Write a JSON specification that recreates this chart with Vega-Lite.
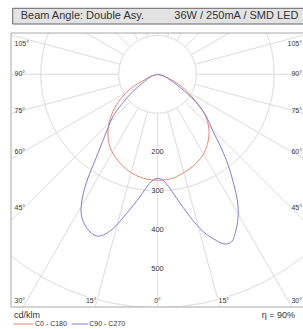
{
  "$schema": "https://vega.github.io/schema/vega-lite/v6.json",
  "width": 292,
  "height": 274,
  "padding": {"left": 11, "top": 33, "right": 0, "bottom": 22},
  "autosize": {"type": "none"},
  "background": "white",
  "config": {"view": {"stroke": null}},
  "datasets": {
    "circles": [{"r": 100}, {"r": 200}, {"r": 300}, {"r": 400}, {"r": 500}, {"r": 600}, {"r": 700}, {"r": 800}, {"r": 900}, {"r": 1000}],
    "spokes": [{"a": 0}, {"a": 15}, {"a": 30}, {"a": 45}, {"a": 60}, {"a": 75}, {"a": 90}, {"a": 105}, {"a": 120}, {"a": 135}, {"a": 150}, {"a": 165}, {"a": 180}, {"a": 195}, {"a": 210}, {"a": 225}, {"a": 240}, {"a": 255}, {"a": 270}, {"a": 285}, {"a": 300}, {"a": 315}, {"a": 330}, {"a": 345}],
    "curves": [
      {"s": "C0 - C180", "i": 1, "x": 0, "y": 0},
      {"s": "C0 - C180", "i": 2, "x": -18.0, "y": 4.9},
      {"s": "C0 - C180", "i": 3, "x": -32.9, "y": 13.9},
      {"s": "C0 - C180", "i": 4, "x": -67.4, "y": 35.2},
      {"s": "C0 - C180", "i": 5, "x": -93.1, "y": 60.9},
      {"s": "C0 - C180", "i": 6, "x": -114.4, "y": 95.1},
      {"s": "C0 - C180", "i": 7, "x": -125.4, "y": 129.6},
      {"s": "C0 - C180", "i": 8, "x": -127.2, "y": 155.3},
      {"s": "C0 - C180", "i": 9, "x": -122.9, "y": 185.1},
      {"s": "C0 - C180", "i": 10, "x": -110.0, "y": 210.8},
      {"s": "C0 - C180", "i": 11, "x": -88.7, "y": 236.5},
      {"s": "C0 - C180", "i": 12, "x": -58.6, "y": 258.1},
      {"s": "C0 - C180", "i": 13, "x": -28.8, "y": 269.2},
      {"s": "C0 - C180", "i": 14, "x": 0, "y": 272.2},
      {"s": "C0 - C180", "i": 15, "x": 35.5, "y": 268.4},
      {"s": "C0 - C180", "i": 16, "x": 65.6, "y": 253.7},
      {"s": "C0 - C180", "i": 17, "x": 95.6, "y": 232.4},
      {"s": "C0 - C180", "i": 18, "x": 117.0, "y": 206.7},
      {"s": "C0 - C180", "i": 19, "x": 128.0, "y": 181.0},
      {"s": "C0 - C180", "i": 20, "x": 132.4, "y": 155.3},
      {"s": "C0 - C180", "i": 21, "x": 129.8, "y": 125.2},
      {"s": "C0 - C180", "i": 22, "x": 117.0, "y": 95.1},
      {"s": "C0 - C180", "i": 23, "x": 91.3, "y": 60.9},
      {"s": "C0 - C180", "i": 24, "x": 61.2, "y": 30.8},
      {"s": "C0 - C180", "i": 25, "x": 27.0, "y": 9.5},
      {"s": "C0 - C180", "i": 26, "x": 0, "y": 0},
      {"s": "C90 - C270", "i": 1, "x": 0, "y": 0},
      {"s": "C90 - C270", "i": 2, "x": -18.0, "y": 6.4},
      {"s": "C90 - C270", "i": 3, "x": -32.9, "y": 18.0},
      {"s": "C90 - C270", "i": 4, "x": -63.0, "y": 43.7},
      {"s": "C90 - C270", "i": 5, "x": -93.1, "y": 78.1},
      {"s": "C90 - C270", "i": 6, "x": -114.4, "y": 108.0},
      {"s": "C90 - C270", "i": 7, "x": -127.2, "y": 138.0},
      {"s": "C90 - C270", "i": 8, "x": -144.5, "y": 181.0},
      {"s": "C90 - C270", "i": 9, "x": -161.4, "y": 223.7},
      {"s": "C90 - C270", "i": 10, "x": -178.7, "y": 266.6},
      {"s": "C90 - C270", "i": 11, "x": -187.1, "y": 292.3},
      {"s": "C90 - C270", "i": 12, "x": -194.1, "y": 323.1},
      {"s": "C90 - C270", "i": 13, "x": -196.7, "y": 348.8},
      {"s": "C90 - C270", "i": 14, "x": -194.1, "y": 369.4},
      {"s": "C90 - C270", "i": 15, "x": -186.4, "y": 387.4},
      {"s": "C90 - C270", "i": 16, "x": -173.5, "y": 405.4},
      {"s": "C90 - C270", "i": 17, "x": -156.3, "y": 415.7},
      {"s": "C90 - C270", "i": 18, "x": -139.3, "y": 413.1},
      {"s": "C90 - C270", "i": 19, "x": -113.6, "y": 395.9},
      {"s": "C90 - C270", "i": 20, "x": -79.2, "y": 357.3},
      {"s": "C90 - C270", "i": 21, "x": -45.0, "y": 314.7},
      {"s": "C90 - C270", "i": 22, "x": -23.7, "y": 284.6},
      {"s": "C90 - C270", "i": 23, "x": -10.8, "y": 271.7},
      {"s": "C90 - C270", "i": 24, "x": 0, "y": 267.4},
      {"s": "C90 - C270", "i": 25, "x": 11.6, "y": 270.4},
      {"s": "C90 - C270", "i": 26, "x": 21.9, "y": 280.2},
      {"s": "C90 - C270", "i": 27, "x": 49.4, "y": 318.8},
      {"s": "C90 - C270", "i": 28, "x": 83.5, "y": 366.1},
      {"s": "C90 - C270", "i": 29, "x": 117.7, "y": 404.6},
      {"s": "C90 - C270", "i": 30, "x": 152.2, "y": 427.8},
      {"s": "C90 - C270", "i": 31, "x": 173.5, "y": 436.2},
      {"s": "C90 - C270", "i": 32, "x": 190.7, "y": 430.3},
      {"s": "C90 - C270", "i": 33, "x": 201.8, "y": 400.3},
      {"s": "C90 - C270", "i": 34, "x": 207.7, "y": 357.3},
      {"s": "C90 - C270", "i": 35, "x": 205.1, "y": 323.1},
      {"s": "C90 - C270", "i": 36, "x": 194.1, "y": 275.1},
      {"s": "C90 - C270", "i": 37, "x": 181.2, "y": 232.4},
      {"s": "C90 - C270", "i": 38, "x": 164.0, "y": 189.5},
      {"s": "C90 - C270", "i": 39, "x": 142.7, "y": 146.5},
      {"s": "C90 - C270", "i": 40, "x": 125.4, "y": 108.0},
      {"s": "C90 - C270", "i": 41, "x": 104.1, "y": 78.1},
      {"s": "C90 - C270", "i": 42, "x": 69.9, "y": 43.7},
      {"s": "C90 - C270", "i": 43, "x": 31.4, "y": 13.9},
      {"s": "C90 - C270", "i": 44, "x": 14.1, "y": 3.1},
      {"s": "C90 - C270", "i": 45, "x": 0, "y": 0}
    ],
    "values": [{"t": "200", "v": 200}, {"t": "300", "v": 300}, {"t": "400", "v": 400}, {"t": "500", "v": 500}],
    "leftLabels": [{"t": "105°", "y": -79.2}, {"t": "90°", "y": 0}, {"t": "75°", "y": 94.3}, {"t": "60°", "y": 199.7}, {"t": "45°", "y": 344.5}, {"t": "30°", "y": 581.5}],
    "bottomLabels": [{"t": "15°", "x": -170.5}, {"t": "0°", "x": 0}, {"t": "15°", "x": 170.5}],
    "header": [{"t": "Beam Angle: Double Asy.", "x": -351.7}, {"t": "36W / 250mA / SMD LED", "x": 43.2}],
    "legend": [{"t": "C0 - C180", "x": -314.9}, {"t": "C90 - C270", "x": -175.3}]
  },
  "layer": [
    {
      "data": {"name": "circles"},
      "mark": {"type": "arc", "filled": false, "stroke": "#e0e0e0", "strokeWidth": 0.8, "theta": 0, "theta2": 6.2832, "clip": true},
      "encoding": {
        "x": {"datum": 0, "type": "quantitative", "scale": {"domain": [-376.6, 374.0], "nice": false, "zero": false}, "axis": null},
        "y": {"datum": 0, "type": "quantitative", "scale": {"domain": [-106.2, 598.2], "nice": false, "zero": false, "reverse": true}, "axis": null},
        "radius": {"field": "r", "type": "quantitative", "scale": {"type": "linear", "domain": [0, 1000], "range": [0, 389], "zero": true}, "legend": null}
      }
    },
    {
      "data": {"name": "spokes"},
      "mark": {"type": "arc", "filled": false, "stroke": "#e0e0e0", "strokeWidth": 0.8, "clip": true},
      "encoding": {
        "x": {"datum": 0, "type": "quantitative"},
        "y": {"datum": 0, "type": "quantitative"},
        "theta": {"field": "a", "type": "quantitative", "stack": null, "scale": {"domain": [0, 360], "range": [0, 6.283185]}},
        "theta2": {"field": "a"},
        "radius": {"datum": 1000, "type": "quantitative"},
        "radius2": {"datum": 100}
      }
    },
    {
      "data": {"name": "values"},
      "mark": {"type": "text", "font": "Liberation Sans", "fontSize": 7.5, "stroke": "white", "strokeWidth": 3, "fill": "white", "align": "center", "baseline": "middle"},
      "encoding": {
        "x": {"datum": 0, "type": "quantitative"},
        "y": {"field": "v", "type": "quantitative"},
        "text": {"field": "t"}
      }
    },
    {
      "data": {"name": "values"},
      "mark": {"type": "text", "font": "Liberation Sans", "fontSize": 7.5, "fill": "#333333", "align": "center", "baseline": "middle"},
      "encoding": {
        "x": {"datum": 0, "type": "quantitative"},
        "y": {"field": "v", "type": "quantitative"},
        "text": {"field": "t"}
      }
    },
    {
      "data": {"name": "curves"},
      "mark": {"type": "line", "strokeWidth": 1, "interpolate": "catmull-rom"},
      "encoding": {
        "x": {"field": "x", "type": "quantitative"},
        "y": {"field": "y", "type": "quantitative"},
        "color": {"field": "s", "type": "nominal", "scale": {"domain": ["C0 - C180", "C90 - C270"], "range": ["#ee8470", "#7f7fd8"]}, "legend": null},
        "order": {"field": "i", "type": "quantitative"}
      }
    },
    {
      "data": {"values": [{}]},
      "mark": {"type": "rule", "stroke": "#a8a8a8", "strokeWidth": 1},
      "encoding": {
        "x": {"datum": -376.6, "type": "quantitative"},
        "x2": {"datum": 500},
        "y": {"datum": -106.2, "type": "quantitative"}
      }
    },
    {
      "data": {"values": [{}]},
      "mark": {"type": "rule", "stroke": "#a8a8a8", "strokeWidth": 1},
      "encoding": {
        "x": {"datum": -376.6, "type": "quantitative"},
        "x2": {"datum": 500},
        "y": {"datum": 598.2, "type": "quantitative"}
      }
    },
    {
      "data": {"values": [{}]},
      "mark": {"type": "rule", "stroke": "#a8a8a8", "strokeWidth": 1},
      "encoding": {
        "x": {"datum": -376.6, "type": "quantitative"},
        "y": {"datum": -106.2, "type": "quantitative"},
        "y2": {"datum": 598.2}
      }
    },
    {
      "data": {"values": [{}]},
      "mark": {"type": "rect", "fill": "#e3e3e3", "stroke": "#666666", "strokeWidth": 1},
      "encoding": {
        "x": {"datum": -372.2, "type": "quantitative"},
        "x2": {"datum": 500},
        "y": {"datum": -169.7, "type": "quantitative"},
        "y2": {"datum": -129.3}
      }
    },
    {
      "data": {"name": "header"},
      "mark": {"type": "text", "font": "Liberation Sans", "fontSize": 11, "fill": "#333333", "align": "left", "baseline": "middle"},
      "encoding": {
        "x": {"field": "x", "type": "quantitative"},
        "y": {"datum": -149.3, "type": "quantitative"},
        "text": {"field": "t"}
      }
    },
    {
      "data": {"name": "leftLabels"},
      "mark": {"type": "text", "font": "Liberation Sans", "fontSize": 7, "fill": "#333333", "align": "left", "baseline": "middle"},
      "encoding": {
        "x": {"datum": -367.6, "type": "quantitative"},
        "y": {"field": "y", "type": "quantitative"},
        "text": {"field": "t"}
      }
    },
    {
      "data": {"name": "leftLabels"},
      "mark": {"type": "text", "font": "Liberation Sans", "fontSize": 7, "fill": "#333333", "align": "right", "baseline": "middle"},
      "encoding": {
        "x": {"datum": 371.5, "type": "quantitative"},
        "y": {"field": "y", "type": "quantitative"},
        "text": {"field": "t"}
      }
    },
    {
      "data": {"name": "bottomLabels"},
      "mark": {"type": "text", "font": "Liberation Sans", "fontSize": 7, "stroke": "white", "strokeWidth": 3, "fill": "white", "align": "center", "baseline": "middle"},
      "encoding": {
        "x": {"field": "x", "type": "quantitative"},
        "y": {"datum": 581.5, "type": "quantitative"},
        "text": {"field": "t"}
      }
    },
    {
      "data": {"name": "bottomLabels"},
      "mark": {"type": "text", "font": "Liberation Sans", "fontSize": 7, "fill": "#333333", "align": "center", "baseline": "middle"},
      "encoding": {
        "x": {"field": "x", "type": "quantitative"},
        "y": {"datum": 581.5, "type": "quantitative"},
        "text": {"field": "t"}
      }
    },
    {
      "data": {"values": [{"t": "cd/klm"}]},
      "mark": {"type": "text", "font": "Liberation Sans", "fontSize": 9, "fill": "#333333", "align": "left", "baseline": "middle"},
      "encoding": {
        "x": {"datum": -368.9, "type": "quantitative"},
        "y": {"datum": 618.8, "type": "quantitative"},
        "text": {"field": "t"}
      }
    },
    {
      "data": {"values": [{"t": "η = 90%"}]},
      "mark": {"type": "text", "font": "Liberation Sans", "fontSize": 9, "fill": "#333333", "align": "right", "baseline": "middle"},
      "encoding": {
        "x": {"datum": 353.5, "type": "quantitative"},
        "y": {"datum": 618.8, "type": "quantitative"},
        "text": {"field": "t"}
      }
    },
    {
      "data": {"name": "legend"},
      "mark": {"type": "text", "font": "Liberation Sans", "fontSize": 7, "fill": "#333333", "align": "left", "baseline": "middle"},
      "encoding": {
        "x": {"field": "x", "type": "quantitative"},
        "y": {"datum": 641.9, "type": "quantitative"},
        "text": {"field": "t"}
      }
    },
    {
      "data": {"values": [{}]},
      "mark": {"type": "rule", "stroke": "#ee8470", "strokeWidth": 1},
      "encoding": {
        "x": {"datum": -370.7, "type": "quantitative"},
        "x2": {"datum": -319.3},
        "y": {"datum": 641.9, "type": "quantitative"}
      }
    },
    {
      "data": {"values": [{}]},
      "mark": {"type": "rule", "stroke": "#7f7fd8", "strokeWidth": 1},
      "encoding": {
        "x": {"datum": -220.6, "type": "quantitative"},
        "x2": {"datum": -178.7},
        "y": {"datum": 641.9, "type": "quantitative"}
      }
    }
  ]
}
